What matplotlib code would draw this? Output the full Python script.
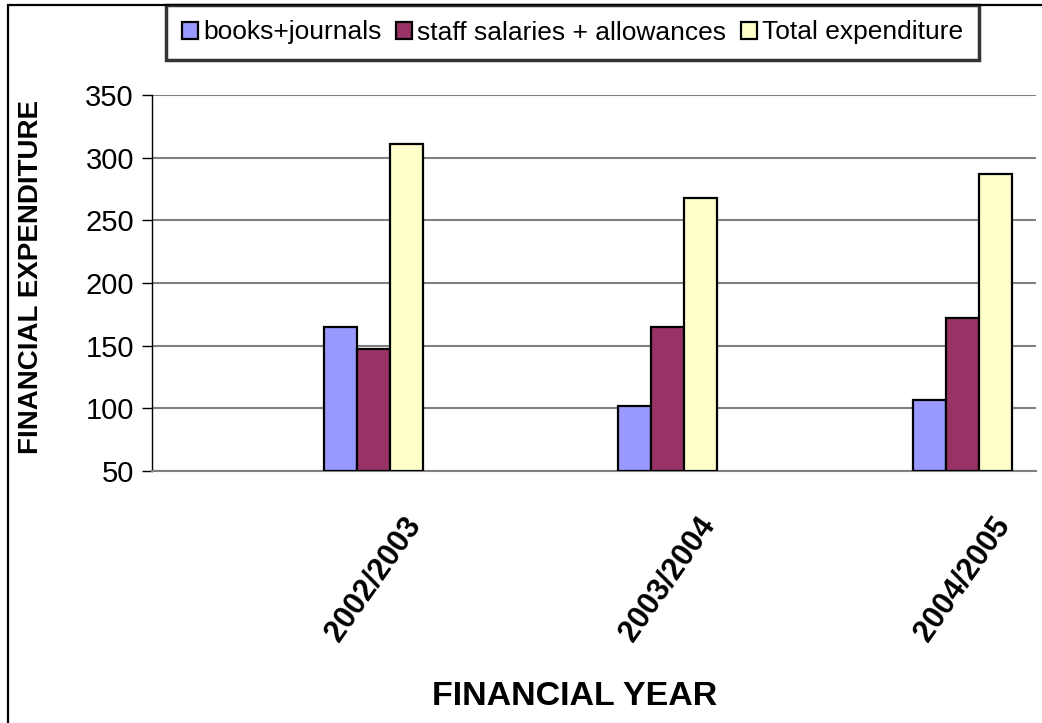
import matplotlib
matplotlib.use("Agg")
import matplotlib.pyplot as plt
from matplotlib.patches import Rectangle, Patch
import numpy as np

plt.rcParams['font.family'] = ['Liberation Sans', 'DejaVu Sans']

years = ["2002/2003", "2003/2004", "2004/2005"]
series_names = ["books+journals", "staff salaries + allowances", "Total expenditure"]
books = [165, 102, 107]
salaries = [147, 165, 172]
total = [311, 268, 287]
colors = ["#9999FF", "#993366", "#FFFFCC"]

W, H = 1042, 723
fig = plt.figure(figsize=(W / 100, H / 100), dpi=100)
ax = fig.add_axes([152 / W, 1 - 471 / H, (1036 - 152) / W, (471 - 95) / H])

x = np.arange(len(years))
bw = 0.112
for i, (vals, c) in enumerate(zip([books, salaries, total], colors)):
    ax.bar(x + (i - 1) * bw, np.array(vals) - 50, bw, bottom=50, color=c,
           edgecolor="black", linewidth=1.6, zorder=3)

ax.set_ylim(50, 350)
ax.set_yticks(range(50, 351, 50))
ax.set_xlim(-0.753, 2.251)
ax.yaxis.grid(True, color="#808080", linewidth=1.5, zorder=0)
for s in ["top", "right"]:
    ax.spines[s].set_visible(False)
ax.spines["left"].set_linewidth(1.0)
ax.spines["bottom"].set_color("#808080")
ax.spines["bottom"].set_linewidth(1.5)
ax.tick_params(axis="y", direction="out", length=7, width=1.0, labelsize=21, pad=6)
ax.set_xticks(x)
ax.set_xticklabels(years, rotation=55, ha="center", va="center",
                   rotation_mode="anchor", fontsize=22, fontweight="bold")
ax.tick_params(axis="x", length=0, pad=78)

ax.set_ylabel("FINANCIAL EXPENDITURE", fontsize=20, fontweight="bold", va="center")
ax.yaxis.set_label_coords(-0.137, 0.515)
ax.set_xlabel("FINANCIAL YEAR", fontsize=24.5, fontweight="bold")
ax.xaxis.set_label_coords(0.478, -0.601)
ax.xaxis.label.set_va("center")

# outer chart frame
fig.patches.append(Rectangle((8 / W, -0.1), 1.2, 1.1 - 5 / H, transform=fig.transFigure,
                             fill=False, edgecolor="black", linewidth=1.6, zorder=0))

handles = [Patch(facecolor=c, edgecolor="black", linewidth=1.6) for c in colors]
leg = fig.legend(handles, series_names, loc="center", ncol=3,
                 bbox_to_anchor=((170 + 975) / 2 / W, 1 - 32.5 / H),
                 fontsize=19, frameon=True, fancybox=False, handlelength=0.6,
                 handleheight=0.6, handletextpad=0.2, columnspacing=0.55,
                 borderpad=0.6, borderaxespad=0)
leg.get_frame().set_edgecolor("black")
leg.get_frame().set_linewidth(2.5)

fig.savefig("out.png", dpi=100)
